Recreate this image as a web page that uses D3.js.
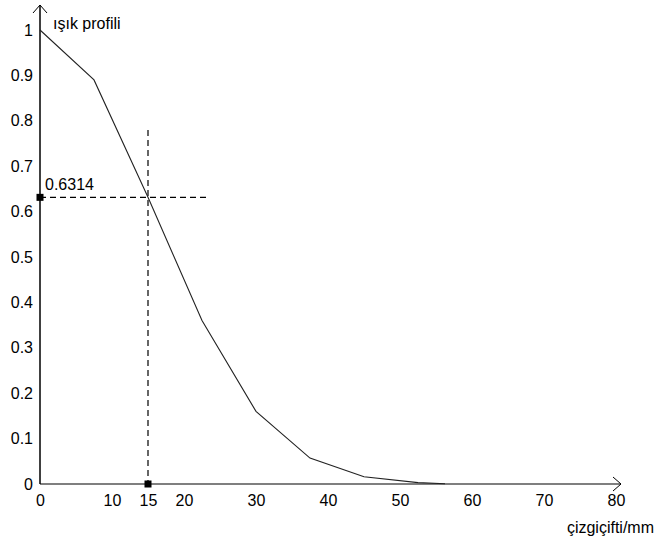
<!DOCTYPE html>
<html>
<head>
<meta charset="utf-8">
<script src="https://cdn.jsdelivr.net/npm/d3@7"></script>
<style>
  html, body { margin: 0; padding: 0; background: #fff; }
  svg { display: block; }
  text { font-family: "Liberation Sans", Arial, sans-serif; font-size: 16px; fill: #000; }
</style>
</head>
<body>
<svg id="chart" width="655" height="545"></svg>
<script>
// ---- data ----
const freq = [0, 7.5, 15, 22.5, 30, 37.5, 45, 52.5, 56.25];
const profile = [1, 0.89, 0.6314, 0.36, 0.16, 0.057, 0.016, 0.003, 0.0005];
const xTicks = [0, 10, 15, 20, 30, 40, 50, 60, 70, 80];
const yTicks = [0, 0.1, 0.2, 0.3, 0.4, 0.5, 0.6, 0.7, 0.8, 0.9, 1];
const markX = 15;
const markY = 0.6314;
const yTitle = "ışık profili";
const xTitle = "çizgiçifti/mm";

const svg = d3.select("#chart");
const x = d3.scaleLinear().domain([0, 80]).range([40, 616]);
const y = d3.scaleLinear().domain([0, 1]).range([484, 30]);

// axes labels via d3 axis
const gx = svg.append("g").attr("transform", "translate(0,484)")
  .call(d3.axisBottom(x).tickValues(xTicks).tickSize(0).tickPadding(11).tickFormat(d3.format("d")));
gx.select(".domain").remove();
gx.selectAll("text").attr("font-family", "Liberation Sans, Arial, sans-serif").attr("font-size", 16).attr("fill", "#000");

const gy = svg.append("g").attr("transform", "translate(40,0)")
  .call(d3.axisLeft(y).tickValues(yTicks).tickSize(0).tickPadding(7).tickFormat(d => String(+d.toFixed(1))));
gy.select(".domain").remove();
gy.selectAll("text").attr("font-family", "Liberation Sans, Arial, sans-serif").attr("font-size", 16).attr("fill", "#000");

// axis lines with arrows
const x0 = x(0), y0 = y(0);
svg.append("line").attr("x1", x0).attr("y1", y0).attr("x2", 621).attr("y2", y0)
  .attr("stroke", "#000").attr("stroke-width", 1.2);
svg.append("path").attr("d", `M613,477 L621,${y0} L613,491`).attr("fill", "none").attr("stroke", "#000").attr("stroke-width", 1);
svg.append("line").attr("x1", x0).attr("y1", y0).attr("x2", x0).attr("y2", 5)
  .attr("stroke", "#000").attr("stroke-width", 1.5);
svg.append("path").attr("d", `M33,13 L${x0},5 L47,13`).attr("fill", "none").attr("stroke", "#000").attr("stroke-width", 1);

// dashed guide lines
svg.append("line").attr("x1", x0).attr("x2", 208).attr("y1", y(markY)).attr("y2", y(markY))
  .attr("stroke", "#000").attr("stroke-width", 1.2).attr("stroke-dasharray", "6,4");
svg.append("line").attr("x1", x(markX)).attr("x2", x(markX)).attr("y1", 130).attr("y2", y0)
  .attr("stroke", "#000").attr("stroke-width", 1.2).attr("stroke-dasharray", "6,4");

// curve
const line = d3.line().x((d, i) => x(freq[i])).y(d => y(d));
svg.append("path").datum(profile).attr("d", line)
  .attr("fill", "none").attr("stroke", "#222").attr("stroke-width", 1.1);

// markers
svg.append("rect").attr("x", x0 - 3.5).attr("y", y(markY) - 3.5).attr("width", 7).attr("height", 7).attr("fill", "#000");
svg.append("rect").attr("x", x(markX) - 3.5).attr("y", y0 - 3.5).attr("width", 7).attr("height", 7).attr("fill", "#000");

// texts
svg.append("text").attr("x", 45).attr("y", y(markY) - 7).text(String(markY));
svg.append("text").attr("x", 53).attr("y", 29).text(yTitle);
svg.append("text").attr("x", 654).attr("y", 533).attr("text-anchor", "end").text(xTitle);
</script>
</body>
</html>
